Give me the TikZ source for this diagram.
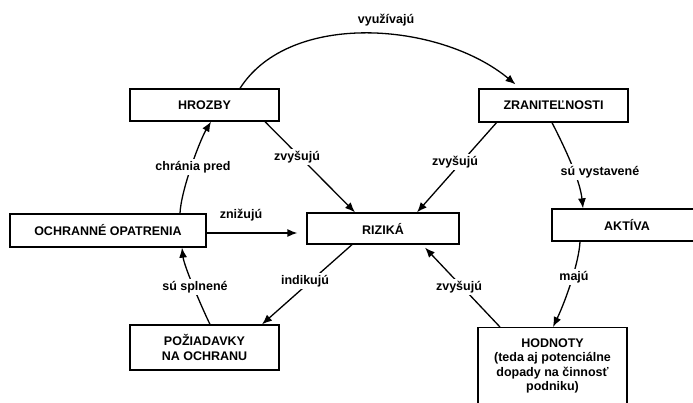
\documentclass[tikz,border=0pt]{standalone}
\usepackage{fontspec}
\setmainfont{Liberation Sans}
\usetikzlibrary{arrows.meta}

\begin{document}
\begin{tikzpicture}[x=1pt,y=-1pt,font=\fontsize{12.5pt}{14.5pt}\selectfont\bfseries,
  box/.style={draw,line width=1.3pt,minimum height=32pt,inner sep=2pt},
  lbl/.style={fill=white,inner sep=2.5pt},
  arr/.style={-{Latex[length=10pt,width=8pt]},line width=1.3pt}]
\path[use as bounding box] (0,0) rectangle (693,403);
\clip (0,0) rectangle (693,403);
\fill[white] (0,0) rectangle (693,403);
% boxes
\node[box,minimum width=149pt] (hrozby) at (204.5,105) {HROZBY};
\node[box,minimum width=149pt,minimum height=33pt] (zranit) at (553.5,105.5) {ZRANITEĽNOSTI};
\node[box,minimum width=196pt,minimum height=33pt] (opatrenia) at (108,230.5) {OCHRANNÉ OPATRENIA};
\node[box,minimum width=152pt,minimum height=31pt] (rizika) at (383,228.5) {RIZIKÁ};
\node[box,minimum width=150pt] (aktiva) at (627,225) {AKTÍVA};
\node[box,minimum width=149pt,minimum height=45pt,align=center] (poziadavky) at (204.5,347.5) {POŽIADAVKY\\NA OCHRANU};
\node[box,anchor=north,minimum width=149pt,minimum height=100pt] (hodnoty) at (552.5,327) {};
\node[anchor=north,align=center] (hodnotytxt) at ([yshift=-8pt]hodnoty.north) {HODNOTY\\(teda aj potenciálne\\dopady na činnosť\\podniku)};
% connectors
\draw[arr] ([xshift=35.5pt]hrozby.north) .. controls (290,10) and (440,22) .. ([xshift=-38pt,yshift=4pt]zranit.north);
\draw[arr] ([xshift=60.5pt]hrozby.south) -- ([xshift=-28pt]rizika.north);
\draw[arr] ([xshift=-57pt]zranit.south) -- ([xshift=34pt]rizika.north);
\draw[arr] ([xshift=-1.5pt]zranit.south) .. controls (565,148) and (580,180) .. ([xshift=-44pt]aktiva.north);
\draw[arr] ([xshift=72pt]opatrenia.north) .. controls (181,190) and (200,140) .. ([xshift=6.5pt]hrozby.south);
\draw[arr,shorten >=9pt] ([yshift=-2.5pt]opatrenia.east) -- ([yshift=-2.5pt]opatrenia.east -| rizika.west);
\draw[arr] ([xshift=5.5pt]poziadavky.north) .. controls (202,308) and (184,266) .. ([xshift=74pt]opatrenia.south);
\draw[arr] ([xshift=-31pt]rizika.south) -- ([xshift=57.5pt]poziadavky.north);
\draw[arr] ([xshift=-52.5pt]hodnoty.north) -- ([xshift=42pt,yshift=-3pt]rizika.south);
\draw[arr] ([xshift=-47pt]aktiva.south) .. controls (579,262) and (566,300) .. ([xshift=0.5pt]hodnoty.north);
% labels
\node[lbl] (l1) at (386,20) {využívajú};
\node[lbl] (l2) at (297,157) {zvyšujú};
\node[lbl] (l3) at (455,162) {zvyšujú};
\node[lbl] (l4) at (600,172) {sú vystavené};
\node[lbl] (l5) at (193,167) {chránia pred};
\node[lbl] (l6) at (241,215) {znižujú};
\node[lbl] (l7) at (305,281) {indikujú};
\node[lbl] (l8) at (195,287) {sú splnené};
\node[lbl] (l9) at (459,287) {zvyšujú};
\node[lbl] (l10) at (574,277) {majú};
\end{tikzpicture}
\end{document}
